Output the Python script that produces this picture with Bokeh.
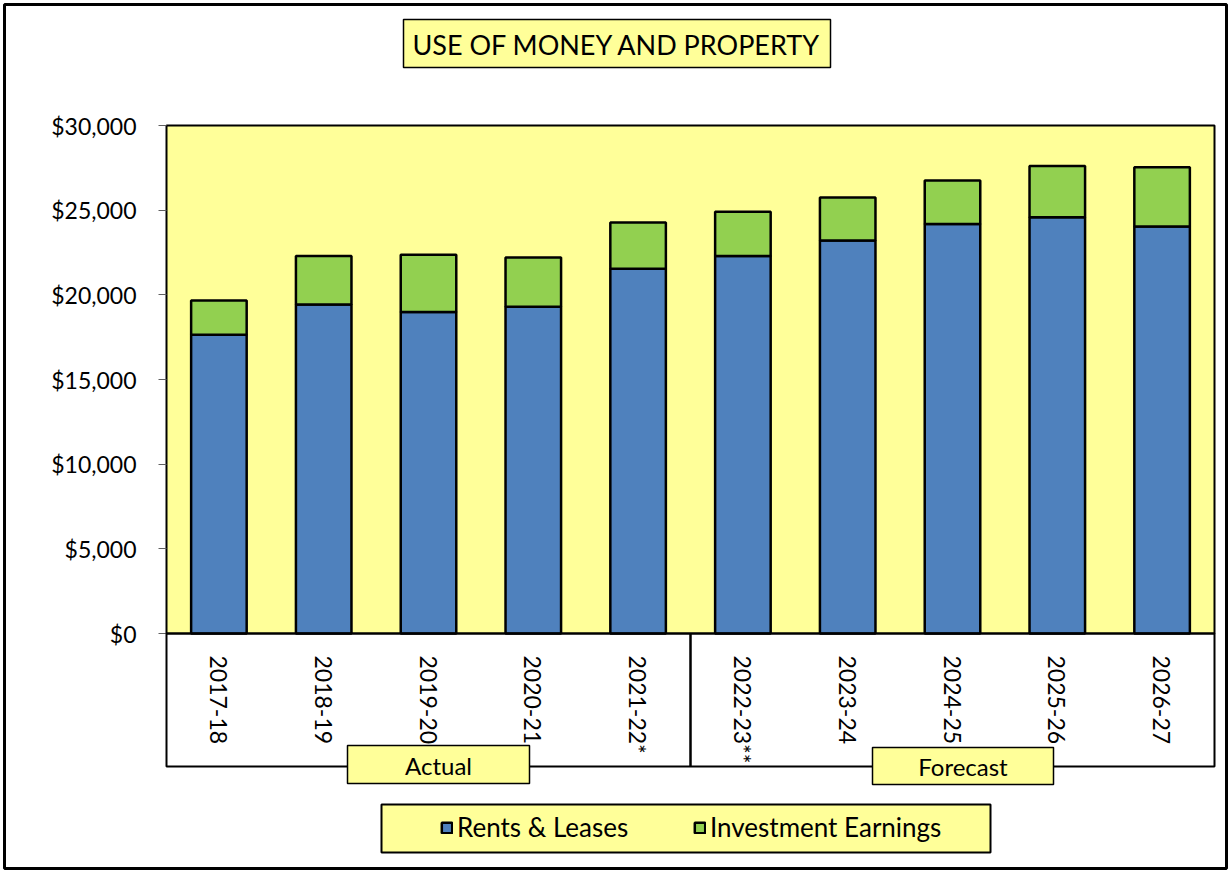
import math
from bokeh.plotting import figure
from bokeh.models import (Range1d, FixedTicker, NumeralTickFormatter,
                          BoxAnnotation, Label, Legend, LegendItem, ColumnDataSource)
from bokeh.embed import file_html
from bokeh.resources import INLINE

# ---------------- data ----------------
years = ["2017-18", "2018-19", "2019-20", "2020-21", "2021-22*",
         "2022-23**", "2023-24", "2024-25", "2025-26", "2026-27"]
rents = [17640, 19430, 18980, 19290, 21540, 22300, 23210, 24190, 24580, 24030]
invest = [2020, 2870, 3380, 2910, 2730, 2600, 2540, 2560, 3030, 3500]
series = ["Rents & Leases", "Investment Earnings"]
colors = ["#4F81BD", "#92D050"]
y_ticks = [0, 5000, 10000, 15000, 20000, 25000, 30000]
y_max = 30000
title_text = "USE OF MONEY AND PROPERTY"
period_labels = ["Actual", "Forecast"]

FONT = "Lato"
YELLOW = "#FFFF99"

# ---------------- layout (pixels) ----------------
W, H = 1230, 872
PL, PR, PT, PB = 166, 1214, 125, 633          # plot area edges
n = len(years)
cat_w = (PR - PL) / n
y_per_px = y_max / (PB - PT)

x_start = -PL / cat_w
x_end = (W - PL) / cat_w
y_start = -(H - PB) * y_per_px
y_end = PB * y_per_px

p = figure(x_range=Range1d(x_start, x_end), y_range=Range1d(y_start, y_end),
           width=W, height=H, min_border=0, min_border_left=0, min_border_right=0,
           min_border_top=0, min_border_bottom=0, title=None,
           output_backend="svg", toolbar_location=None,
           background_fill_color="white", border_fill_color="white",
           outline_line_color=None)

xc = [i + 0.5 for i in range(n)]
src = ColumnDataSource(dict(x=xc, rents=rents, invest=invest))


def sbox(l, r, t, b, fill=None, lw=2, level="annotation"):
    # screen units measured from the canvas' top-left corner
    return BoxAnnotation(left=l, right=r, top=H - t, bottom=H - b,
                         left_units="screen", right_units="screen",
                         top_units="screen", bottom_units="screen",
                         fill_color=fill if fill else "white",
                         fill_alpha=1 if fill else 0,
                         line_color="black", line_alpha=1, line_width=lw,
                         level=level)


def slabel(x, y, text, size="23px"):
    return Label(x=x, y=H - y, x_units="screen", y_units="screen", text=text,
                 text_align="center", text_baseline="middle",
                 text_font=FONT, text_font_size=size, text_color="black")


# yellow plot area (data units)
p.add_layout(BoxAnnotation(left=0, right=n, bottom=0, top=y_max,
                           fill_color=YELLOW, fill_alpha=1,
                           line_color="black", line_alpha=1, line_width=2,
                           level="underlay"))

rs = p.vbar_stack(["rents", "invest"], x="x", width=0.53, source=src,
                  fill_color=colors, line_color="black", line_width=2.5)

p.xgrid.visible = False
p.ygrid.visible = False

ya = p.yaxis[0]
ya.fixed_location = 0
ya.bounds = (0, y_max)
ya.ticker = FixedTicker(ticks=y_ticks)
ya.formatter = NumeralTickFormatter(format="$0,0")
ya.major_label_text_font = FONT
ya.major_label_text_font_size = "23px"
ya.major_label_text_color = "black"
ya.major_tick_out = 8
ya.major_tick_in = 0
ya.minor_tick_out = 0
ya.minor_tick_in = 0
ya.major_tick_line_color = "#606060"
ya.axis_line_color = None
ya.major_label_standoff = 22

xa = p.xaxis[0]
xa.fixed_location = 0
xa.bounds = (0, n)
xa.ticker = FixedTicker(ticks=xc)
xa.major_label_overrides = {x: y for x, y in zip(xc, years)}
xa.major_label_orientation = -math.pi / 2
xa.major_tick_line_color = None
xa.minor_tick_line_color = None
xa.axis_line_color = None
xa.major_label_standoff = 16
xa.major_label_text_font = FONT
xa.major_label_text_font_size = "23px"
xa.major_label_text_color = "black"

# outer chart border
p.add_layout(sbox(4, 1226, 4, 868, None, 3))
# category label box and divider
p.add_layout(sbox(PL, PR, PB, 766, None, 2))
p.add_layout(sbox(PL + 5 * cat_w, PL + 5 * cat_w, PB, 766, None, 2.5))
# title
p.add_layout(sbox(403, 830, 19, 67, YELLOW, 1.5))
p.add_layout(slabel(616.5, 44, title_text, "27px"))
# period boxes
p.add_layout(sbox(347, 529, 745, 783, YELLOW, 1.5))
p.add_layout(slabel(438, 765, period_labels[0], "24px"))
p.add_layout(sbox(872, 1053, 747, 784, YELLOW, 1.5))
p.add_layout(slabel(962.5, 766, period_labels[1], "24px"))
# legend box
p.add_layout(sbox(381, 990, 804, 852, YELLOW, 2))

for name, r, lx in zip(series, rs, [440, 693]):
    leg = Legend(items=[LegendItem(label=name, renderers=[r])],
                 location=(lx, H - 843), orientation="horizontal",
                 background_fill_alpha=0, border_line_alpha=0,
                 padding=0, margin=0, glyph_width=13, glyph_height=13,
                 label_standoff=4, label_text_font=FONT,
                 label_text_font_size="26px", label_text_color="black")
    p.add_layout(leg)

open("out.html", "w").write(file_html(p, INLINE))
